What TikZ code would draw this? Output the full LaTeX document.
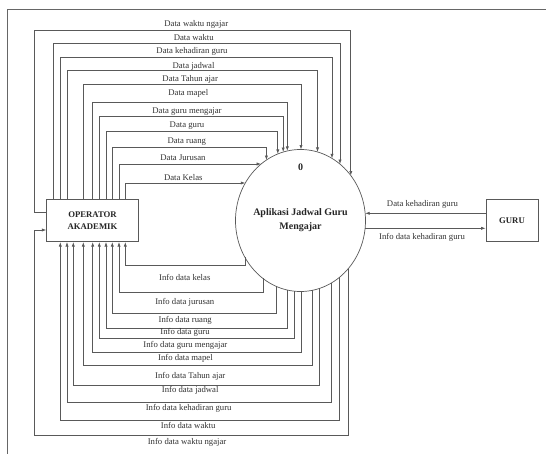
\documentclass[tikz,border=0pt]{standalone}
\usepackage{fontspec}
\setmainfont{Liberation Serif}
\usetikzlibrary{arrows.meta,shapes.geometric}
% border points of the process ellipse: centre (300.5,220.5), semi-axes 65 x 71
\newcommand\elltop[1]{220.5-71*sqrt(1-((#1-300.5)/65)^2)}
\newcommand\ellbot[1]{220.5+71*sqrt(1-((#1-300.5)/65)^2)}
\newcommand\ellleft[1]{300.5-65*sqrt(1-((#1-220.5)/71)^2)}
\newcommand\ellright[1]{300.5+65*sqrt(1-((#1-220.5)/71)^2)}
\begin{document}
\begin{tikzpicture}[x=1pt,y=-1pt,
  line/.style={draw=black!65,line width=0.7pt},
  flow/.style={line,-{Latex[length=4.5pt,width=3.2pt]}},
  lbl/.style={font=\fontsize{8.7}{10}\selectfont,text=black!80,inner sep=0pt},
  entity/.style={line,minimum height=42.4pt,inner sep=0pt,align=center,
    font=\bfseries\fontsize{8.7}{11.7}\selectfont,text=black!85},
  procbox/.style={line,ellipse,minimum width=130pt,minimum height=142pt,inner sep=0pt},
  proctext/.style={font=\bfseries\fontsize{10}{14}\selectfont,align=center,text=black!85,inner sep=0pt},
]
\useasboundingbox (0,0) rectangle (546,454);
\fill[white] (0,0) rectangle (546,454);
% page frame
\draw[black!60,line width=0.8pt] (7.7,454) -- (7.7,9.3) -- (546,9.3);

% entities and process
\node[entity,minimum width=91.6pt] (op) at (92.5,220.5) {OPERATOR\\AKADEMIK};
\node[entity,minimum width=52pt] (guru) at (512,220.5) {GURU};
\node[procbox] (proc) at (300.5,220.5) {};
\node[proctext] (num) at (300.5,167.7) {0};
\node[proctext] (title) at (300.5,220.3) {Aplikasi Jadwal Guru\\Mengajar};

% data flows from the operator into the top of the process
\foreach \bx/\hy/\cx/\t/\lx/\ly [count=\i] in {
  53.7/43/340/Data waktu/193.7/37.7,
  60.3/57/332/Data kehadiran guru/192/51,
  67/70.7/317.5/Data jadwal/193.6/66,
  83.3/84/301/Data Tahun ajar/190.2/79,
  92.7/102.3/287.3/Data mapel/188.3/93.3,
  99.3/116.3/283.2/Data guru mengajar/187/111.7,
  106/131.7/277.8/Data guru/187/125.3,
  112.3/147/266.4/Data ruang/186.8/142}{
  \coordinate (in\i) at (\cx,{\elltop{\cx}});
  \draw[flow] (\bx,0 |- op.north) -- (\bx,\hy) -- (\cx,\hy) -- (in\i);
  \node[lbl] (dl\i) at (\lx,\ly) {\t};
}
% data flows entering the left side of the process
\foreach \bx/\hy/\t/\lx/\ly [count=\i] in {
  119/164/Data Jurusan/183/157.7,
  125.3/183/Data Kelas/183.3/177.3}{
  \coordinate (lin\i) at ({\ellleft{\hy}},\hy);
  \draw[flow] (\bx,0 |- op.north) -- (\bx,\hy) -- (lin\i);
  \node[lbl] (dh\i) at (\lx,\ly) {\t};
}
% outermost data flow, leaving the operator on its left side
\coordinate (inw) at (350.8,{\elltop{350.8}});
\draw[flow] (op.west |- 0,212.3) -- (34,212.3) -- (34,30.3) -- (350.8,30.3) -- (inw);
\node[lbl] (dlw) at (196.3,24.3) {Data waktu ngajar};

% information flows from the bottom of the process back to the operator
\foreach \cx/\hy/\bx/\t/\lx/\ly [count=\i] in {
  245/265.7/125.3/Info data kelas/184.8/277.7,
  263/292/119/Info data jurusan/184.8/302.3,
  276.3/313.3/112.3/Info data ruang/185.2/320.7,
  287.4/328/106/Info data guru/185/332.7,
  294.8/338.7/99.3/Info data guru mengajar/185.4/345.3,
  301/352.3/92.7/Info data mapel/185.4/358.7,
  312.3/365.3/83.3/Info data Tahun ajar/190.2/376.3,
  319.3/385/73.3/Info data jadwal/190.2/390.3,
  331.3/402.7/67/Info data kehadiran guru/188.7/408.3,
  339.8/420/60.3/Info data waktu/188.2/425.7}{
  \coordinate (out\i) at (\cx,{\ellbot{\cx}});
  \draw[flow] (out\i) -- (\cx,\hy) -- (\bx,\hy) -- (\bx,0 |- op.south);
  \node[lbl] (il\i) at (\lx,\ly) {\t};
}
% outermost information flow, entering the operator on its left side
\coordinate (outw) at (348.2,{\ellbot{348.2}});
\draw[flow] (outw) -- (348.2,435) -- (34,435) -- (34,230) -- (op.west |- 0,230);
\node[lbl] (ilw) at (187.1,442.7) {Info data waktu ngajar};

% flows between the process and GURU
\coordinate (gin) at ({\ellright{213.3}},213.3);
\coordinate (gout) at ({\ellright{228.3}},228.3);
\draw[flow] (guru.west |- 0,213.3) -- (gin);
\draw[flow] (gout) -- (guru.west |- 0,228.3);
\node[lbl] (gl1) at (422.5,204.3) {Data kehadiran guru};
\node[lbl] (gl2) at (422,237) {Info data kehadiran guru};
\end{tikzpicture}
\end{document}
